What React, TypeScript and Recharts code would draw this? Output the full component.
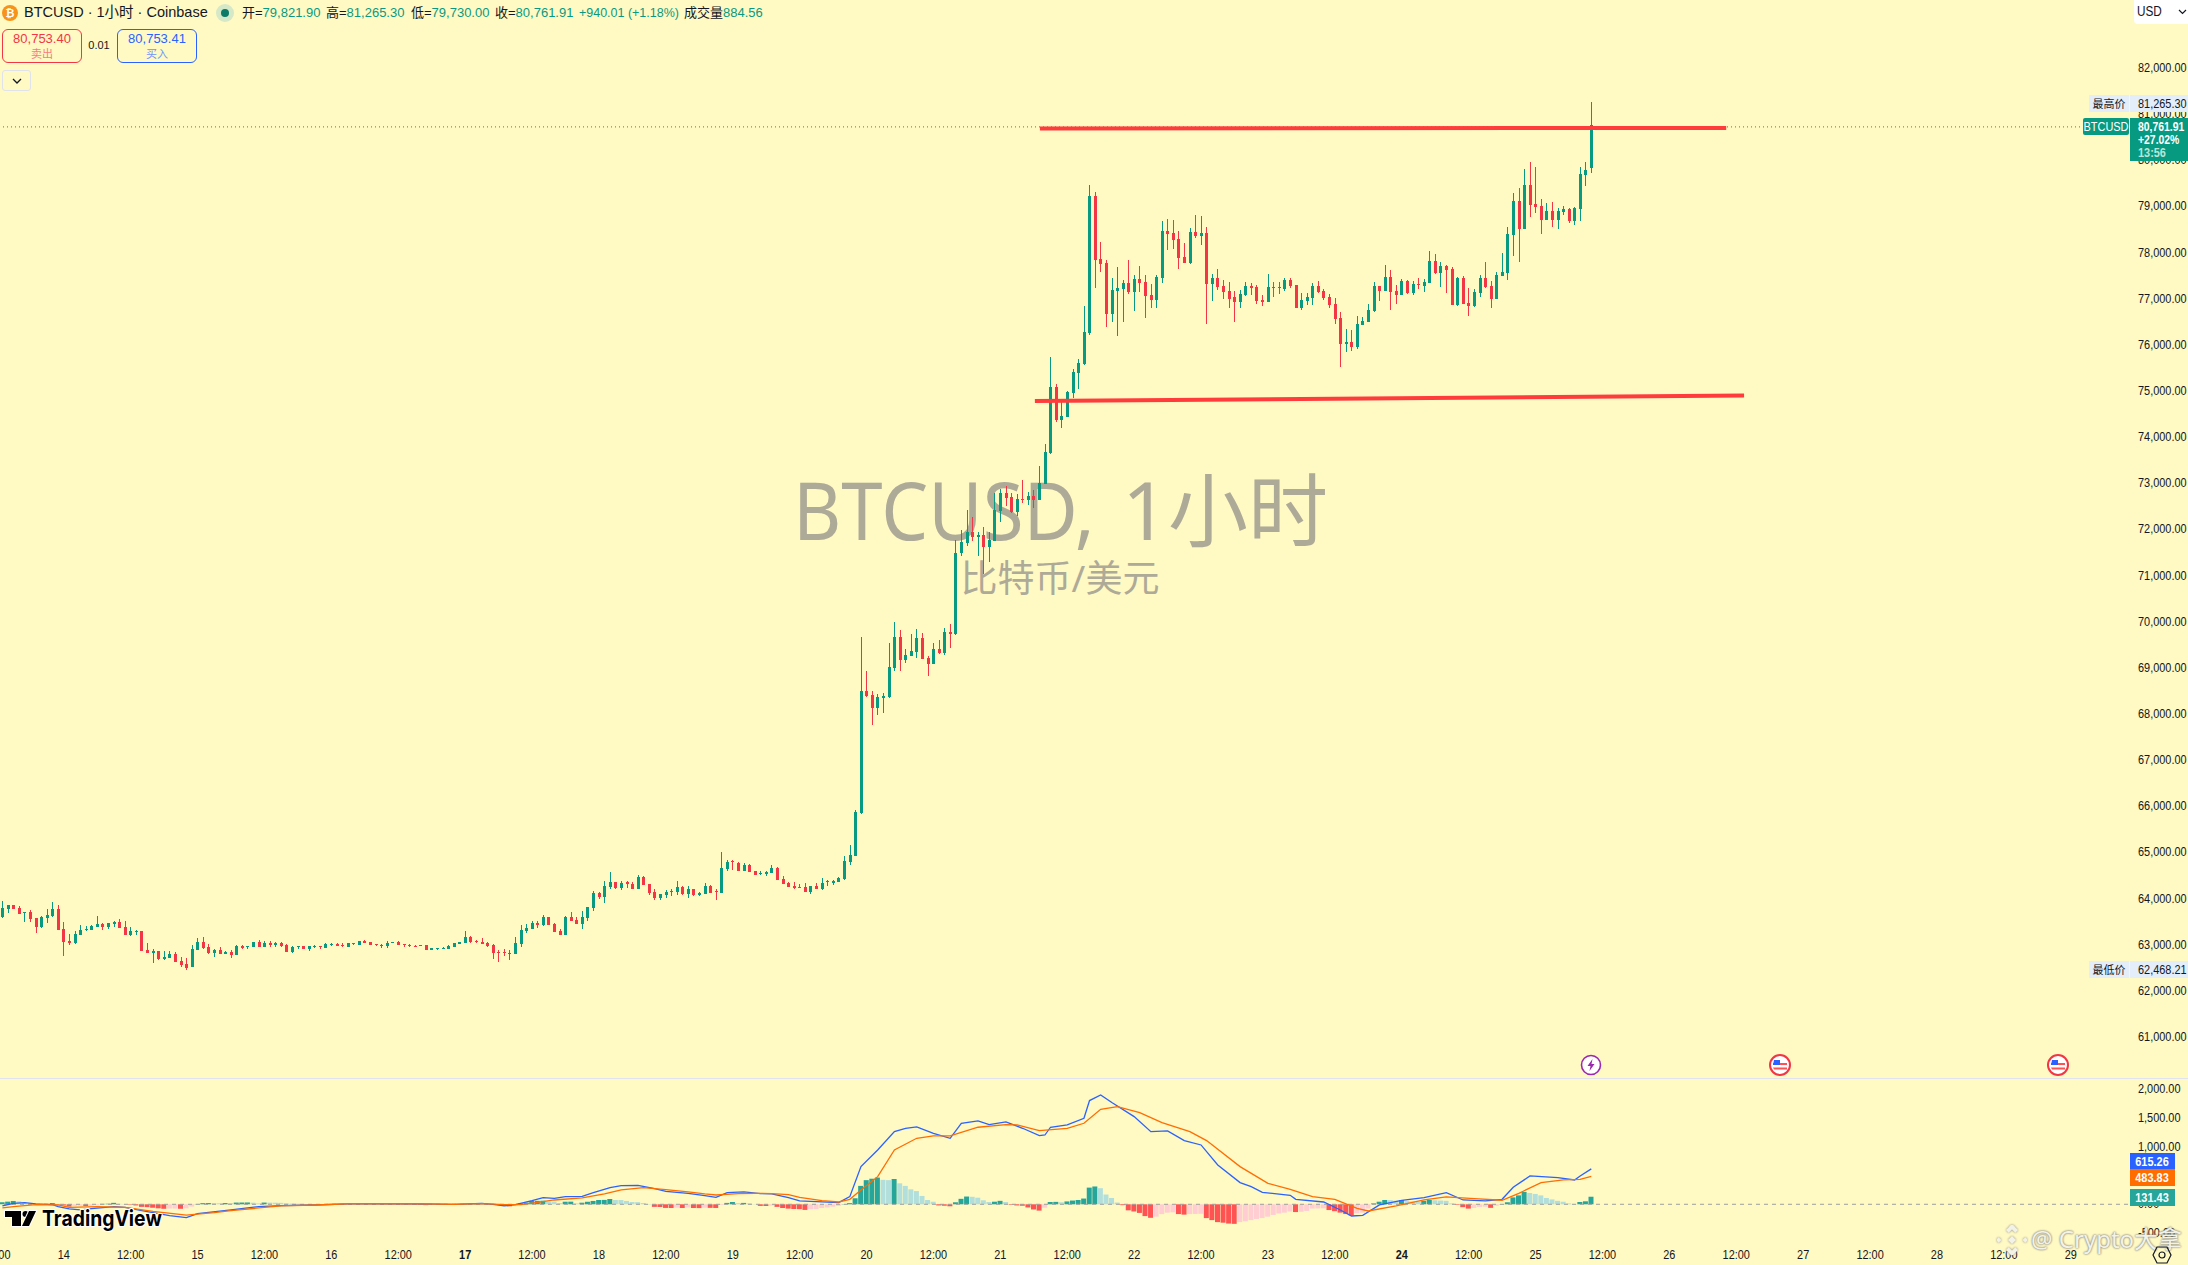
import { Bar, Cell, ComposedChart, Line, ReferenceLine, XAxis, YAxis } from "recharts";

// hourly candles
const opens = [
  63605, 63779, 63866, 63801, 63692, 63714, 63584, 63389, 63584, 63627,
  63779, 63345, 63085, 63041, 63215, 63323, 63323, 63389, 63454, 63389,
  63454, 63497, 63389, 63215, 63280, 63302, 62890, 62824, 62868, 62694,
  62716, 62803, 62651, 62586, 62521, 62890, 63063, 62955, 62824, 62890,
  62803, 62846, 62781, 62976, 62955, 62955, 63063, 62955, 63041, 62998,
  63041, 62998, 62846, 62955, 62976, 62911, 62955, 62976, 62933, 62998,
  63020, 62998, 62955, 63041, 62998, 63085, 63063, 63020, 62976, 62976,
  63041, 63063, 63020, 62998, 62976, 62976, 62998, 62890, 62911, 62911,
  62911, 62955, 63020, 63042, 63172, 63085, 63063, 63042, 62998, 62846,
  62846, 62803, 62803, 63020, 63302, 63345, 63475, 63432, 63606, 63454,
  63302, 63215, 63606, 63541, 63454, 63584, 63801, 64126, 64039, 64256,
  64365, 64235, 64365, 64322, 64213, 64473, 64322, 64148, 64018, 64083,
  64148, 64148, 64256, 64104, 64213, 64083, 64104, 64278, 64170, 64126,
  64647, 64820, 64777, 64603, 64734, 64603, 64538, 64538, 64560, 64669,
  64430, 64343, 64278, 64256, 64256, 64148, 64278, 64213, 64365, 64343,
  64365, 64430, 64799, 64929, 65862, 68508, 68421, 68139, 68356, 68378,
  69007, 69679, 69180, 69267, 69354, 69657, 69224, 69094, 69419, 69332,
  69788, 69744, 71480, 71696, 71935, 71827, 71870, 71610, 71740, 72391,
  72781, 72694, 72369, 72651, 72629, 72716, 72629, 72976, 73649, 75080,
  74364, 74429, 74950, 75383, 75579, 76251, 79223, 77856, 77770, 76663,
  77162, 77206, 77336, 77140, 77423, 77357, 77075, 76967, 77444, 78464,
  78420, 78290, 77900, 77770, 78442, 78355, 78420, 77314, 77444, 77271,
  77162, 77032, 76923, 77075, 77271, 77249, 76967, 76923, 77249, 77249,
  77206, 77401, 77292, 76793, 76945, 77010, 77271, 77162, 77032, 76880,
  76577, 76012, 76056, 75948, 76425, 76490, 76729, 77271, 77163, 77466,
  77163, 77076, 77379, 77119, 77314, 77271, 77336, 77814, 77553, 77705,
  77640, 76859, 77445, 76902, 76837, 77119, 77445, 77271, 76989, 77488,
  77553, 78378, 79115, 78508, 79462, 79050, 79007, 78703, 78898, 78703,
  78876, 78942, 78681, 78942, 79679, 79821.9,
];
const highs = [
  63952, 63866, 63866, 63844, 63714, 63757, 63584, 63627, 63779, 63931,
  63866, 63497, 63237, 63302, 63432, 63410, 63432, 63627, 63475, 63475,
  63519, 63562, 63519, 63389, 63323, 63302, 63041, 62911, 62868, 62868,
  62868, 62846, 62738, 62716, 62998, 63150, 63172, 63020, 62911, 62955,
  62868, 62890, 62998, 62998, 62976, 63063, 63106, 63085, 63085, 63063,
  63063, 63020, 62976, 62976, 62976, 62976, 62998, 62976, 63041, 63041,
  63041, 63041, 63041, 63041, 63085, 63106, 63063, 63020, 63020, 63085,
  63063, 63085, 63020, 63020, 62998, 62998, 62998, 62933, 62933, 62955,
  62998, 63042, 63063, 63302, 63193, 63107, 63150, 63063, 63020, 62890,
  62911, 62890, 63172, 63432, 63454, 63519, 63519, 63649, 63606, 63475,
  63345, 63627, 63714, 63606, 63736, 63822, 64170, 64148, 64387, 64582,
  64365, 64387, 64387, 64365, 64517, 64495, 64322, 64213, 64104, 64191,
  64213, 64387, 64278, 64278, 64213, 64148, 64343, 64300, 64213, 65016,
  64842, 64842, 64799, 64777, 64755, 64603, 64603, 64603, 64734, 64690,
  64495, 64365, 64365, 64322, 64343, 64278, 64343, 64452, 64408, 64408,
  64473, 64929, 65167, 65927, 69679, 68942, 68508, 68443, 68464, 69549,
  70004, 69831, 69419, 69744, 69853, 69766, 69267, 69549, 69614, 69875,
  69961, 71762, 71979, 72412, 72261, 71935, 72044, 71935, 72781, 72868,
  72933, 72781, 72760, 73063, 72803, 72846, 73367, 73850, 75730, 75145,
  74760, 74993, 75470, 75687, 76837, 79462, 79310, 78225, 77835, 77444,
  77683, 77401, 77835, 77509, 77704, 77509, 77314, 77509, 78681, 78724,
  78702, 78464, 78203, 78529, 78811, 78789, 78551, 77531, 77639, 77401,
  77357, 77162, 77184, 77357, 77336, 77292, 77075, 77531, 77357, 77357,
  77444, 77444, 77292, 77119, 77119, 77336, 77379, 77205, 77097, 77010,
  76707, 76338, 76317, 76620, 76599, 76881, 77358, 77271, 77727, 77618,
  77293, 77423, 77401, 77379, 77445, 77423, 78030, 77965, 77792, 77727,
  77683, 77466, 77488, 77228, 77206, 77510, 77792, 77379, 77575, 77987,
  78551, 79289, 79397, 79809, 79961, 79853, 79158, 79072, 79093, 78963,
  79007, 78963, 78985, 79853, 79961, 81265.3,
];
const lows = [
  63584, 63692, 63779, 63670, 63497, 63497, 63258, 63367, 63475, 63605,
  63323, 62759, 62998, 63020, 63215, 63302, 63323, 63389, 63323, 63345,
  63389, 63367, 63215, 63193, 63215, 62868, 62824, 62608, 62673, 62673,
  62716, 62629, 62521, 62456, 62521, 62890, 62911, 62803, 62738, 62803,
  62803, 62716, 62781, 62911, 62911, 62955, 62955, 62955, 62955, 62955,
  62955, 62846, 62824, 62911, 62911, 62868, 62933, 62911, 62933, 62976,
  62976, 62955, 62955, 62998, 62998, 63041, 62998, 62976, 62933, 62933,
  63041, 62998, 62955, 62955, 62955, 62976, 62890, 62890, 62890, 62911,
  62911, 62955, 63020, 63042, 63042, 63042, 63020, 62955, 62694, 62630,
  62760, 62673, 62803, 62955, 63258, 63345, 63367, 63410, 63432, 63280,
  63215, 63215, 63519, 63454, 63345, 63519, 63736, 63996, 63909, 64213,
  64213, 64191, 64235, 64213, 64213, 64300, 64083, 63974, 63974, 64018,
  64061, 64083, 64083, 64018, 64061, 64061, 64104, 64126, 63974, 64126,
  64603, 64625, 64603, 64603, 64582, 64517, 64517, 64495, 64560, 64408,
  64322, 64256, 64213, 64235, 64148, 64104, 64213, 64191, 64278, 64300,
  64365, 64408, 64734, 64929, 65840, 68378, 67770, 67987, 68031, 68356,
  68942, 68942, 69115, 69267, 69224, 69202, 68833, 69094, 69310, 69289,
  69441, 69723, 71415, 71632, 71740, 71415, 71046, 71306, 71740, 72152,
  72499, 72347, 72282, 72564, 72521, 72456, 72629, 72976, 73627, 74320,
  74190, 74429, 74841, 75036, 75557, 76208, 77227, 77574, 76381, 76490,
  76186, 76490, 77097, 76728, 77140, 76577, 76793, 76793, 77336, 78052,
  78073, 77639, 77770, 77748, 78312, 78160, 76446, 76945, 77184, 76988,
  76793, 76490, 76793, 77054, 77075, 76880, 76837, 76923, 77032, 77097,
  77162, 77227, 76793, 76750, 76858, 76858, 77119, 76967, 76793, 76446,
  75513, 75839, 75861, 75905, 76425, 76490, 76707, 76946, 77163, 76751,
  76881, 77076, 77098, 77076, 77206, 77141, 77336, 77531, 77249, 77119,
  76859, 76837, 76881, 76620, 76816, 77033, 77228, 76794, 76989, 77488,
  77401, 77922, 77792, 78508, 78768, 78855, 78399, 78703, 78551, 78508,
  78811, 78638, 78595, 78681, 79441, 79730,
];
const closes = [
  63801, 63866, 63779, 63670, 63714, 63562, 63389, 63605, 63649, 63779,
  63323, 63063, 63041, 63237, 63323, 63345, 63410, 63454, 63389, 63475,
  63497, 63367, 63215, 63302, 63302, 62868, 62824, 62868, 62694, 62738,
  62803, 62629, 62564, 62499, 62911, 63063, 62933, 62824, 62890, 62803,
  62846, 62781, 62976, 62933, 62976, 63063, 62955, 63041, 62998, 63041,
  62976, 62846, 62955, 62976, 62911, 62976, 62976, 62955, 63020, 63020,
  62976, 62976, 63041, 63020, 63085, 63041, 62998, 62998, 62998, 63041,
  63063, 62998, 62998, 62976, 62955, 62998, 62890, 62933, 62933, 62933,
  62976, 63042, 63063, 63172, 63063, 63063, 63020, 62977, 62825, 62825,
  62825, 62825, 63042, 63324, 63367, 63475, 63432, 63606, 63432, 63280,
  63215, 63606, 63519, 63454, 63606, 63822, 64126, 64039, 64278, 64365,
  64235, 64343, 64322, 64213, 64473, 64300, 64126, 64018, 64104, 64148,
  64170, 64256, 64104, 64213, 64083, 64126, 64278, 64126, 64148, 64669,
  64799, 64799, 64603, 64734, 64582, 64517, 64560, 64582, 64669, 64408,
  64322, 64256, 64235, 64235, 64148, 64278, 64213, 64343, 64387, 64387,
  64452, 64820, 64951, 65883, 68508, 68399, 68139, 68378, 68399, 69028,
  69679, 69180, 69289, 69376, 69657, 69202, 69094, 69419, 69332, 69788,
  69744, 71501, 71718, 71935, 71827, 71870, 71610, 71762, 72412, 72781,
  72673, 72369, 72651, 72629, 72716, 72629, 72998, 73671, 75080, 74364,
  74451, 74971, 75405, 75600, 76273, 79223, 77835, 77748, 76663, 77184,
  77227, 77336, 77140, 77423, 77336, 77054, 76967, 77466, 78464, 78399,
  78268, 77878, 77770, 78442, 78355, 78420, 77314, 77444, 77249, 77140,
  76988, 76923, 77097, 77271, 77227, 76945, 76923, 77249, 77227, 77227,
  77401, 77271, 76793, 76967, 77032, 77271, 77140, 77010, 76858, 76555,
  76012, 76056, 75948, 76447, 76512, 76750, 77271, 77163, 77466, 77141,
  77076, 77379, 77119, 77314, 77293, 77358, 77814, 77553, 77705, 77618,
  76859, 77445, 76881, 76837, 77141, 77445, 77249, 76989, 77510, 77575,
  78399, 79115, 78508, 79462, 79028, 78985, 78703, 78898, 78703, 78898,
  78942, 78681, 78963, 79701, 79788, 80761.91,
];

// MACD histogram, one value per candle
const histValues = [
  35, 46, 58, 52, 29, 17, 6, 4, 8, 23,
  -8, -20, -40, -30, -25, -30, -25, -15, 8, 10,
  25, 8, 5, -8, -20, -45, -50, -60, -70, -78,
  -75, -74, -78, -70, -40, 6, 20, 22, 20, 18,
  22, 20, 30, 31, 32, 28, 15, 30, 29, 28,
  25, 15, 12, 10, 6, 5, 5, 4, 4, 3,
  3, 3, 3, 2, 2, 2, 1, 1, -1, -2,
  -3, -4, -5, -6, -10, -12, -15, -5, -3, -3,
  -2, -1, 1, 4, 6, 8, 5, -2, -8, -10,
  -28, -35, -30, 17, 30, 58, 60, 62, 46, 44,
  20, 45, 46, 15, 28, 44, 58, 75, 76, 92,
  75, 74, 58, 40, 38, 22, 5, -45, -47, -63,
  -65, -58, -65, -55, -65, -66, -60, -62, -64, -12,
  24, 40, 20, 24, 15, 4, -28, -30, -22, -45,
  -65, -75, -82, -85, -98, -85, -83, -65, -55, -42,
  -28, 5, 20, 105, 320, 420, 445, 465, 425, 420,
  440, 365, 320, 260, 230, 145, 75, 45, -20, -25,
  -35, 35, 95, 135, 130, 115, 70, 40, 45, 60,
  40, -10, -20, -25, -55, -90, -110, -60, 40, 42,
  35, 50, 65, 75, 100, 290, 310, 280, 170, 110,
  30, -15, -105, -125, -150, -205, -235, -215, -170, -145,
  -140, -170, -180, -170, -168, -165, -240, -275, -310, -320,
  -335, -340, -310, -295, -275, -255, -240, -215, -185, -160,
  -145, -125, -135, -130, -115, -75, -72, -70, -100, -120,
  -145, -170, -195, -155, -145, -75, 15, 45, 75, 72,
  62, 75, 55, 50, 45, 60, 75, 70, 65, 60,
  15, -10, -50, -75, -65, -48, -42, -62, -25, 5,
  35, 120, 155, 215, 197, 180, 155, 110, 85, 60,
  45, 15, 5, 40, 52, 131.43,
];

// MACD and signal lines, read at the bars where they bend
const macdBars = [
  0, 2, 4, 6, 9, 10, 12, 14, 16, 20, 22, 25, 30, 33, 35, 41, 46, 50, 56, 62, 68, 75,
  81, 86, 88, 90, 92, 95, 97, 99, 101, 104, 106, 109, 111, 114, 117, 119, 123, 126, 128,
  130, 133, 136, 138, 141, 143, 150, 152, 154, 157, 160, 162, 164, 167, 170, 172, 175,
  177, 180, 183, 186, 187, 188, 191, 194, 195, 197, 199, 203, 206, 209, 212, 215, 218,
  222, 224, 226, 231, 232, 237, 240, 242, 244, 247, 251, 255, 259, 262, 266, 269, 271,
  274, 279, 282, 283, 285,
];
const macdValues = [
  -29, 17, 29, 6, -6, -40, -80, -98, -75, -40, -52, -110, -197, -232, -162, -98, -40, -23, -12, 6, 6, 6,
  0, 17, 0, -29, -6, 64, 116, 104, 133, 139, 203, 290, 325, 330, 273, 226, 191, 151, 122,
  203, 215, 186, 180, 116, 58, 29, 133, 655, 945, 1264, 1322, 1346, 1235, 1148, 1409, 1450,
  1386, 1432, 1322, 1195, 1205, 1340, 1380, 1496, 1804, 1902, 1769, 1525, 1264, 1276, 1108, 1032, 684,
  377, 307, 209, 157, 87, 40, -99, -203, -191, -12, 70, 116, 203, 75, 58, 87, 296,
  493, 464, 423, 493, 615.26,
];
const signalBars = [
  0, 2, 6, 10, 12, 17, 22, 27, 33, 38, 41, 46, 50, 56, 62, 68, 75,
  81, 86, 90, 93, 96, 99, 104, 108, 111, 115, 119, 123, 126, 128, 132, 135, 138, 141, 143,
  147, 150, 152, 154, 157, 160, 164, 167, 170, 175, 180, 182, 186, 191, 194, 197, 200, 204,
  208, 213, 216, 222, 227, 231, 235, 239, 243, 245, 250, 255, 259, 264, 269, 272, 276, 280,
  283, 285,
];
const signalValues = [
  -64, -40, -6, -12, -52, -40, -52, -122, -190, -145, -110, -64, -29, -12, 6, 6, 6,
  0, 12, -6, -6, 35, 75, 110, 180, 250, 290, 255, 215, 180, 162, 186, 191, 186, 168, 120,
  64, 40, 87, 250, 481, 945, 1148, 1189, 1189, 1340, 1386, 1380, 1282, 1322, 1409, 1653, 1699, 1595,
  1421, 1264, 1108, 655, 365, 261, 133, 87, -70, -116, -29, 75, 128, 99, 70, 191, 377, 423,
  435, 483.83,
];

// the two hand-drawn red levels: bar positions and prices at both ends
const upperLevelBars = [186.1, 309.2];
const upperLevelPrices = [80692, 80703];
const lowerLevelBars = [185.2, 312.4];
const lowerLevelPrices = [74783, 74902];
const lastPriceLine = 80725;

const priceTicks = [
  61000, 62000, 63000, 64000, 65000, 66000, 67000, 68000, 69000, 70000, 71000,
  72000, 73000, 74000, 75000, 76000, 77000, 78000, 79000, 80000, 81000, 82000,
];
const macdTicks = [-500, 0, 500, 1000, 1500, 2000];
const timeTickBars = [
  -1, 11, 23, 35, 47, 59, 71, 83, 95, 107, 119, 131, 143, 155, 167, 179, 191, 203, 215,
  227, 239, 251, 263, 275, 287, 299, 311, 323, 335, 347, 359, 371,
];
const timeTickLabels = [
  "12:00", "14", "12:00", "15", "12:00", "16", "12:00", "17", "12:00", "18", "12:00", "19",
  "12:00", "20", "12:00", "21", "12:00", "22", "12:00", "23", "12:00", "24", "12:00", "25",
  "12:00", "26", "12:00", "27", "12:00", "28", "12:00", "29",
];
const boldTimeLabels = ["17", "24"];

const UP = "#089981";
const DOWN = "#f23645";
const BG = "#fff9c4";
const SANS = "'Liberation Sans','Noto Sans CJK SC',sans-serif";
const CJK = "'Noto Sans','Noto Sans CJK SC',sans-serif";
const SQUEEZE = 0.84; // the reference's axis text is narrower than any installed font

const xDomain = [-0.43, 381.27];

const candles = opens.map((open, i) => ({ i, open, high: highs[i], low: lows[i], close: closes[i], hist: histValues[i] }));
const macdLine = macdBars.map((i, k) => ({ i, v: macdValues[k] }));
const signalLine = signalBars.map((i, k) => ({ i, v: signalValues[k] }));

const fmt = (v: number) => v.toLocaleString("en-US", { minimumFractionDigits: 2, maximumFractionDigits: 2 });

function histColor(i: number) {
  const cur = histValues[i];
  const prev = i > 0 ? histValues[i - 1] : 0;
  if (cur >= 0) return prev < cur ? "#26a69a" : "#b2dfdb";
  return prev < cur ? "#ffcdd2" : "#ff5252";
}

function Candle(props: any) {
  const { x, y, width, height, payload } = props;
  const { open, high, low, close } = payload;
  const perUnit = height / (high - low);
  const top = y + (high - Math.max(open, close)) * perUnit;
  const bodyH = Math.max(1, Math.abs(open - close) * perUnit);
  const cx = Math.round(x + width / 2);
  const color = close >= open ? UP : DOWN;
  return (
    <g shapeRendering="crispEdges">
      <rect x={cx} y={y} width={1} height={height} fill={color} />
      <rect x={cx - 1} y={Math.round(top)} width={3} height={Math.max(1, Math.round(bodyH))} fill={color} />
    </g>
  );
}

function ValueTick(props: any) {
  const { x, y, payload } = props;
  return (
    <text transform={`translate(${x + 1},${y + 4}) scale(${SQUEEZE},1)`} fontSize={13} fontFamily={SANS} fill="#131722">
      {fmt(payload.value)}
    </text>
  );
}

function TimeTick(props: any) {
  const { x, y, payload } = props;
  const label = timeTickLabels[timeTickBars.indexOf(payload.value)];
  return (
    <text
      transform={`translate(${x},${y + 11}) scale(${SQUEEZE},1)`}
      textAnchor="middle"
      fontSize={13}
      fontFamily={SANS}
      fontWeight={boldTimeLabels.includes(label) ? 700 : 400}
      fill="#131722"
    >
      {label}
    </text>
  );
}

function Txt({ x, y, size = 13, color = "#131722", font = SANS, weight = 400, anchor = "left", sx = 1, shadow, children }: any) {
  const tx = anchor === "center" ? "translate(-50%,-50%)" : anchor === "right" ? "translate(-100%,-50%)" : "translate(0,-50%)";
  const origin = anchor === "center" ? "center" : anchor === "right" ? "right" : "left";
  return (
    <div
      style={{
        position: "absolute",
        left: x,
        top: y - 1,
        transform: `${tx} scaleX(${sx})`,
        transformOrigin: origin,
        fontSize: size,
        color,
        fontFamily: font,
        fontWeight: weight,
        whiteSpace: "nowrap",
        lineHeight: 1,
        textShadow: shadow,
      }}
    >
      {children}
    </div>
  );
}

function Box({ x, y, w, h, bg, border, radius = 0 }: any) {
  return <div style={{ position: "absolute", left: x, top: y, width: w, height: h, background: bg, border, borderRadius: radius, boxSizing: "border-box" }} />;
}

function FlagIcon({ x, y }: { x: number; y: number }) {
  return (
    <svg style={{ position: "absolute", left: x - 12, top: y - 12 }} width={24} height={24}>
      <circle cx={12} cy={12} r={10} fill="#fff" stroke={DOWN} strokeWidth={2} />
      <path d="M5 10 H19 V12 H5 Z M5 14.5 H19 V16.5 H6 Z" fill="#ff5252" />
      <path d="M6 7 H12 V12 H5 Z" fill="#2962ff" />
    </svg>
  );
}

const halo = "1px 0 0 #fff,-1px 0 0 #fff,0 1px 0 #fff,0 -1px 0 #fff,1px 1px 0 #fff,-1px -1px 0 #fff,1px -1px 0 #fff,-1px 1px 0 #fff";
const softShadow = "0 0 2px #8a8a80,0 0 2px #8a8a80";

export default function App() {
  return (
    <div style={{ position: "absolute", left: 0, top: 0, width: 2188, height: 1265, background: BG, overflow: "hidden" }}>
      {/* symbol watermark sits under the candles */}
      <Txt x={793} y={510} size={80} color="#aeaa98" font={CJK} sx={0.93}>BTCUSD,</Txt>
      <Txt x={1328} y={510} size={80} color="#aeaa98" font={CJK} anchor="right">1小时</Txt>
      <Txt x={1060} y={578} size={37} color="#aeaa98" font={CJK} anchor="center">比特币/美元</Txt>

      <div style={{ position: "absolute", left: 0, top: 0 }}>
        <ComposedChart width={2188} height={1079} data={candles} margin={{ top: 0, right: 0, bottom: 0, left: 0 }}>
          <XAxis dataKey="i" type="number" domain={xDomain} allowDataOverflow hide />
          <YAxis
            orientation="right"
            width={60}
            domain={[60091, 83475]}
            allowDataOverflow
            ticks={priceTicks}
            interval={0}
            axisLine={false}
            tickLine={false}
            tickMargin={3}
            tick={<ValueTick />}
          />
          <Bar dataKey={(d: any) => [d.low, d.high]} barSize={3} shape={<Candle />} isAnimationActive={false} />
          <ReferenceLine y={lastPriceLine} stroke={UP} strokeDasharray="1 3" />
          <ReferenceLine
            segment={[{ x: upperLevelBars[0], y: upperLevelPrices[0] }, { x: upperLevelBars[1], y: upperLevelPrices[1] }]}
            stroke="#ff3b3b"
            strokeWidth={4}
          />
          <ReferenceLine
            segment={[{ x: lowerLevelBars[0], y: lowerLevelPrices[0] }, { x: lowerLevelBars[1], y: lowerLevelPrices[1] }]}
            stroke="#ff3b3b"
            strokeWidth={4}
          />
        </ComposedChart>
      </div>

      <div style={{ position: "absolute", left: 0, top: 1078, width: 2188, height: 1, background: "#dfe3f2" }} />

      <div style={{ position: "absolute", left: 0, top: 1079 }}>
        <ComposedChart width={2188} height={186} data={candles} margin={{ top: 0, right: 0, bottom: 0, left: 0 }}>
          <XAxis
            dataKey="i"
            type="number"
            domain={xDomain}
            allowDataOverflow
            height={25}
            ticks={timeTickBars}
            interval={0}
            axisLine={false}
            tickLine={false}
            tick={<TimeTick />}
          />
          <YAxis
            orientation="right"
            width={60}
            domain={[-621, 2179]}
            allowDataOverflow
            ticks={macdTicks}
            interval={0}
            axisLine={false}
            tickLine={false}
            tickMargin={3}
            tick={<ValueTick />}
          />
          <ReferenceLine y={0} stroke="#9e9e9e" strokeDasharray="4 4" />
          <Bar dataKey="hist" barSize={5} isAnimationActive={false}>
            {candles.map((c) => (
              <Cell key={c.i} fill={histColor(c.i)} />
            ))}
          </Bar>
          <Line data={macdLine} dataKey="v" stroke="#2962ff" strokeWidth={1.3} dot={false} type="linear" isAnimationActive={false} />
          <Line data={signalLine} dataKey="v" stroke="#ff6d00" strokeWidth={1.3} dot={false} type="linear" isAnimationActive={false} />
        </ComposedChart>
      </div>

      {/* header */}
      <svg style={{ position: "absolute", left: 0, top: 2 }} width={20} height={22}>
        <circle cx={10} cy={11} r={8} fill="#f7931a" />
        <text x={10} y={15} textAnchor="middle" fontSize={11} fontWeight={700} fill="#fff" fontFamily={SANS}>₿</text>
      </svg>
      <Txt x={24} y={13} size={14.5}>BTCUSD · 1小时 · Coinbase</Txt>
      <svg style={{ position: "absolute", left: 215, top: 3 }} width={20} height={20}>
        <circle cx={10} cy={10} r={9} fill="#d5e8c8" />
        <circle cx={10} cy={10} r={4} fill="#0b7a66" />
      </svg>
      <Txt x={242} y={13}>开=<span style={{ color: UP }}>79,821.90</span></Txt>
      <Txt x={326} y={13}>高=<span style={{ color: UP }}>81,265.30</span></Txt>
      <Txt x={411} y={13}>低=<span style={{ color: UP }}>79,730.00</span></Txt>
      <Txt x={495} y={13}>收=<span style={{ color: UP }}>80,761.91</span></Txt>
      <Txt x={579} y={13} color={UP} sx={0.96}>+940.01 (+1.18%)</Txt>
      <Txt x={684} y={13}>成交量<span style={{ color: UP }}>884.56</span></Txt>

      <Box x={2} y={29} w={80} h={34} bg="#fff9c4" border={`1.5px solid ${DOWN}`} radius={6} />
      <Txt x={42} y={39} color={DOWN} anchor="center">80,753.40</Txt>
      <Txt x={42} y={54} size={11} color="#f77c80" anchor="center" font={CJK}>卖出</Txt>
      <Txt x={99} y={46} size={11} anchor="center">0.01</Txt>
      <Box x={117} y={29} w={80} h={34} bg="#fff9c4" border="1.5px solid #2962ff" radius={6} />
      <Txt x={157} y={39} color="#2962ff" anchor="center">80,753.41</Txt>
      <Txt x={157} y={54} size={11} color="#6f95ff" anchor="center" font={CJK}>买入</Txt>
      <Box x={2} y={70} w={29} h={21} bg={BG} border="1px solid #e0e3eb" radius={3} />
      <svg style={{ position: "absolute", left: 11, top: 76 }} width={12} height={10}>
        <path d="M2 3 L6 7 L10 3" fill="none" stroke="#131722" strokeWidth={1.3} />
      </svg>

      {/* price axis labels */}
      <Box x={2134} y={0} w={54} h={24} bg="#fff" radius="0 0 0 4px" />
      <Txt x={2137} y={12} size={14} sx={SQUEEZE}>USD</Txt>
      <svg style={{ position: "absolute", left: 2178, top: 8 }} width={10} height={8}>
        <path d="M1 2 L4.5 5.5 L8 2" fill="none" stroke="#131722" strokeWidth={1.2} />
      </svg>
      <Box x={2089} y={95} w={40} h={17} bg="#e3eefa" />
      <Box x={2130} y={95} w={58} h={17} bg="#e3eefa" />
      <Txt x={2109} y={104} size={11} anchor="center" font={CJK}>最高价</Txt>
      <Txt x={2138} y={104} sx={SQUEEZE}>81,265.30</Txt>
      <Box x={2089} y={961} w={40} h={17} bg="#e3eefa" />
      <Box x={2130} y={961} w={58} h={17} bg="#e3eefa" />
      <Txt x={2109} y={970} size={11} anchor="center" font={CJK}>最低价</Txt>
      <Txt x={2138} y={970} sx={SQUEEZE}>62,468.21</Txt>
      <Box x={2083} y={118} w={46} h={17} bg={UP} radius={2} />
      <Txt x={2106} y={127} size={13} color="#fff" anchor="center" sx={SQUEEZE}>BTCUSD</Txt>
      <Box x={2130} y={118} w={58} h={43} bg={UP} />
      <Txt x={2138} y={127} color="#fff" sx={0.8} weight={700}>80,761.91</Txt>
      <Txt x={2138} y={140} color="#fff" sx={0.8} weight={700}>+27.02%</Txt>
      <Txt x={2138} y={153} color="#b8e6d8" sx={0.84} weight={700}>13:56</Txt>

      {/* event markers */}
      <svg style={{ position: "absolute", left: 1579, top: 1053 }} width={24} height={24}>
        <circle cx={12} cy={12} r={9.5} fill="#fff" stroke="#9c27b0" strokeWidth={1.6} />
        <path d="M13.5 6 L8.5 13 H11.5 L10.5 18 L15.5 11 H12.5 Z" fill="#9c27b0" />
      </svg>
      <FlagIcon x={1780} y={1065} />
      <FlagIcon x={2058} y={1065} />

      {/* macd value labels */}
      <Box x={2130} y={1153} w={45} h={17} bg="#2962ff" />
      <Txt x={2152} y={1162} color="#fff" anchor="center" sx={0.84} weight={700}>615.26</Txt>
      <Box x={2130} y={1169} w={45} h={17} bg="#ff6d00" />
      <Txt x={2152} y={1178} color="#fff" anchor="center" sx={0.84} weight={700}>483.83</Txt>
      <Box x={2130} y={1189} w={45} h={17} bg="#26a69a" />
      <Txt x={2152} y={1198} color="#fff" anchor="center" sx={0.84} weight={700}>131.43</Txt>

      {/* logos */}
      <svg style={{ position: "absolute", left: 3, top: 1209 }} width={36} height={20}>
        <g fill="#000" stroke="#fff" strokeWidth={2} paintOrder="stroke">
          <path d="M2 2 H18 V17 H9 V8 H2 Z" />
          <circle cx={22.5} cy={5} r={3} />
          <path d="M26 2 H33 L26 17 H19 Z" />
        </g>
      </svg>
      <Txt x={42} y={1219} size={22} font="Inter,sans-serif" weight={700} color="#000" sx={0.88} shadow={halo}>TradingView</Txt>

      <svg style={{ position: "absolute", left: 1997, top: 1225, filter: "drop-shadow(0 0 1px #8a8a80)" }} width={30} height={30} viewBox="0 0 32 32">
        <g fill="#f3f2e8" transform="rotate(45 16 16)">
          <rect x={13} y={13} width={6} height={6} />
          <rect x={4} y={4} width={9} height={4} />
          <rect x={4} y={4} width={4} height={9} />
          <rect x={19} y={24} width={9} height={4} />
          <rect x={24} y={19} width={4} height={9} />
          <rect x={4} y={24} width={4} height={4} />
          <rect x={24} y={4} width={4} height={4} />
        </g>
      </svg>
      <Txt x={2031} y={1240} size={24} color="#f3f2e8" font={CJK} shadow={softShadow}>@ Crypto大拿</Txt>

      <svg style={{ position: "absolute", left: 2152, top: 1245 }} width={20} height={20}>
        <path d="M5 2 H15 L19 10 L15 18 H5 L1 10 Z" fill="none" stroke="#131722" strokeWidth={1.2} />
        <circle cx={10} cy={10} r={3} fill="none" stroke="#131722" strokeWidth={1.2} />
      </svg>
    </div>
  );
}
